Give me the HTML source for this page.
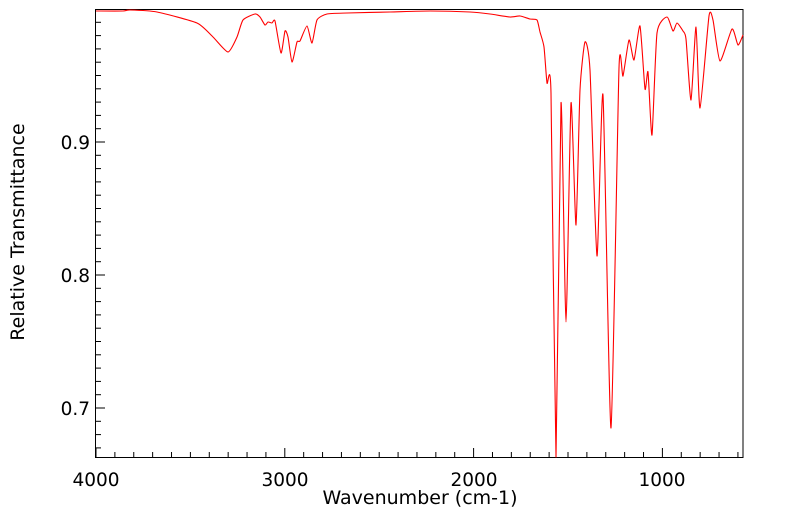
<!DOCTYPE html>
<html><head><style>body{margin:0;background:#fff}svg{display:block}text{font-family:"DejaVu Sans","Liberation Sans",sans-serif;fill:#000}</style></head><body>
<svg width="799" height="516" viewBox="0 0 799 516">
<rect x="95.5" y="9.5" width="647.5" height="448" fill="none" stroke="#000" stroke-width="1"/>
<g stroke="#000" stroke-width="1" id="t"></g>
<path id="c" fill="none" stroke="#ff0000" stroke-width="1.1" stroke-linejoin="round"/>
<text x="96" y="486" font-size="18.5" text-anchor="middle">4000</text>
<text x="285" y="486" font-size="18.5" text-anchor="middle">3000</text>
<text x="474" y="486" font-size="18.5" text-anchor="middle">2000</text>
<text x="662" y="486" font-size="18.5" text-anchor="middle">1000</text>
<text x="90" y="149" font-size="18.5" text-anchor="end">0.9</text>
<text x="90" y="282" font-size="18.5" text-anchor="end">0.8</text>
<text x="90" y="415" font-size="18.5" text-anchor="end">0.7</text>
<text x="420" y="504" font-size="19" text-anchor="middle">Wavenumber (cm-1)</text>
<text transform="translate(24,232) rotate(-90)" font-size="19" text-anchor="middle">Relative Transmittance</text>
</svg>
<script>
var g=document.getElementById('t'),s='';
for(var w=4000;w>=600;w-=100){var x=96+(4000-w)*0.1888;var L=(w%1000==0)?9:5;s+='<line x1="'+x+'" y1="457" x2="'+x+'" y2="'+(457-L)+'"/>';}
for(var i=0;i<34;i++){var y=408+53.2-i*13.3; if(y<10||y>457)continue;var r=Math.abs((y-142)%133);var L=(r<1||r>132)?9:5;s+='<line x1="96" y1="'+y+'" x2="'+(96+L)+'" y2="'+y+'"/>';}
g.innerHTML=s;
var p=[96,11,123,11,130,10,157,12,197,23,213,37,228,52,237,37,243,20,255,14,260,17,265,25,268,22,272,23,275,21,281,53,285,31,288,37,292,62,297,42,300,41,307,26,312,43,317,20,327,14,347,13,390,12,430,11,470,12,490,14,510,17,520,16,530,19,537,20,540,32,544,47,547,83,551,93,556,457,561,103,566,322,571,103,576,225,580,90,585,42,590,70,597,256,603,95,611,428,619,68,623,76,629,40,634,60,640,26,645,89,648,72,652,135,657,33,667,17,673,31,677,23,683,31,686,39,691,100,696,27,700,108,709,16,713,20,720,61,732,29,738,45,743,35];
var P=[];for(var i=0;i<p.length;i+=2)P.push([p[i],p[i+1]]);
var d='M'+P[0][0]+','+P[0][1];
for(var i=0;i<P.length-1;i++){var a=P[Math.max(i-1,0)],b=P[i],c=P[i+1],e=P[Math.min(i+2,P.length-1)];var t=0.1;
d+=' C'+(b[0]+(c[0]-a[0])*t)+','+(b[1]+(c[1]-a[1])*t)+' '+(c[0]-(e[0]-b[0])*t)+','+(c[1]-(e[1]-b[1])*t)+' '+c[0]+','+c[1];}
document.getElementById('c').setAttribute('d',d);
</script>
</body></html>
